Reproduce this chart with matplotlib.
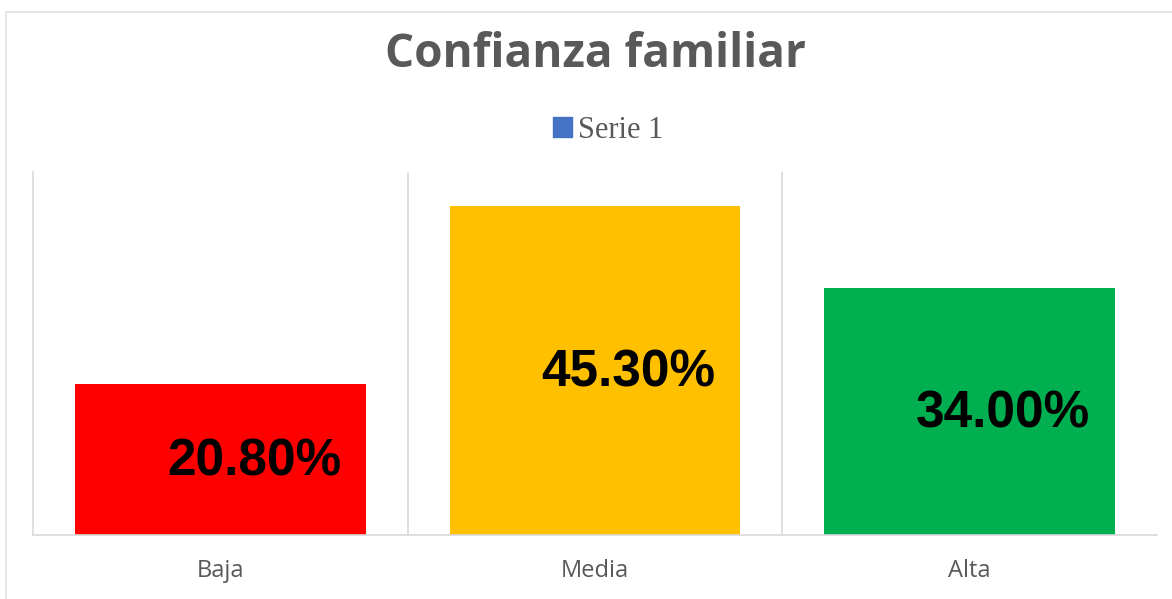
import matplotlib
matplotlib.use("Agg")
import matplotlib.pyplot as plt
from matplotlib.patches import Patch
from matplotlib.lines import Line2D

# data
categorias = ["Baja", "Media", "Alta"]
valores = [20.8, 45.3, 34.0]
etiquetas = ["20.80%", "45.30%", "34.00%"]
colores = ["#FF0000", "#FFC000", "#00B050"]

fig = plt.figure(figsize=(11.72, 5.99), dpi=100, facecolor="white")
ax = fig.add_axes([33 / 1172, 1 - 535 / 599, 1124 / 1172, (535 - 172) / 599])

x = range(len(categorias))
ax.bar(x, valores, width=0.775, color=colores, zorder=2)
ax.set_xlim(-0.5, len(categorias) - 0.5)
ax.set_ylim(0, 50)

# labels inside the bars, shifted a bit to the right
for i, (v, t) in enumerate(zip(valores, etiquetas)):
    ax.text(i + 0.09, v / 2 - 0.4, t, ha="center", va="center",
            fontsize=37, fontweight="bold", family="Liberation Sans",
            color="black", zorder=3)

# category separators
for b in [0.5, 1.5]:
    ax.axvline(b, color="#D9D9D9", lw=1.2, zorder=1)

for s in ["top", "right"]:
    ax.spines[s].set_visible(False)
ax.spines["left"].set_color("#D9D9D9")
ax.spines["bottom"].set_color("#D9D9D9")
ax.spines["left"].set_linewidth(1.2)
ax.spines["bottom"].set_linewidth(1.2)
ax.set_yticks([])
ax.set_xticks(list(x))
ax.set_xticklabels(categorias, fontsize=17, family="Open Sans", color="#595959")
ax.tick_params(axis="x", length=0, pad=17)

fig.text(595 / 1172, 1 - 67 / 599, "Confianza familiar", ha="center", va="baseline",
         fontsize=33, fontweight="bold", family="Open Sans", color="#595959")

fig.legend(handles=[Patch(color="#4472C4", label="Serie 1")], loc="center",
           bbox_to_anchor=(608 / 1172, 1 - 130 / 599), frameon=False,
           prop={"family": "Liberation Serif", "size": 22},
           handlelength=0.62, handleheight=0.62, handletextpad=0.2,
           labelcolor="#595959")

# outer chart frame
fig.add_artist(Line2D([6 / 1172, 1], [1 - 12 / 599, 1 - 12 / 599],
                      transform=fig.transFigure, color="#E6E6E6", lw=1.5))
fig.add_artist(Line2D([6 / 1172, 6 / 1172], [0, 1 - 12 / 599],
                      transform=fig.transFigure, color="#E6E6E6", lw=1.5))

fig.savefig("out.png", dpi=100, facecolor="white")
